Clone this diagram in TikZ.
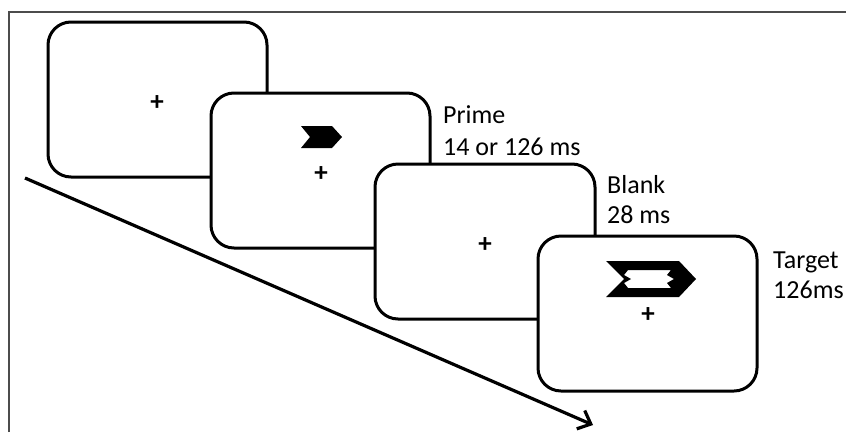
\documentclass[tikz,border=0pt]{standalone}
\usepackage{fontspec}
\setmainfont{Carlito}
\usetikzlibrary{arrows.meta}

\tikzset{
  screen/.style={draw=black, line width=3pt, fill=white, rounded corners=23pt},
  label/.style={anchor=base west, inner sep=0pt, font=\fontsize{26}{30}\selectfont},
  fixation/.style={anchor=center, inner sep=0pt, font=\bfseries\fontsize{27}{30}\selectfont},
  frame/.style={draw=black!70, line width=1.4pt},
  timeline/.style={line width=3.2pt, -{Straight Barb[length=11pt,width=20pt,line width=3.2pt]}}
}

\begin{document}
\begin{tikzpicture}[x=1pt, y=-1pt]
  \useasboundingbox (0,0) rectangle (846,432);

  % outer frame (top and left edges)
  \draw[frame] (9,432) -- (9,12) -- (846,12);

  % time axis
  \coordinate (tstart) at (25,178);
  \coordinate (tend) at (593,425);
  \draw[timeline] (tstart) -- (tend);

  % fixation screen
  \draw[screen] (48,22) rectangle (267,177);
  \node[fixation] (fix1) at (157,103) {+};

  % prime screen
  \draw[screen] (211,93) rectangle (430,248);
  \node[fixation] (fix2) at (321,174) {+};
  \fill[black] (301,126) -- (332,126) -- (342,137) -- (332,148) -- (301,148) -- (310,137) -- cycle;
  \node[label] (primeA) at (443,123) {Prime};
  \node[label] (primeB) at (443,155) {14 or 126 ms};

  % blank screen
  \draw[screen] (375,164) rectangle (595,319);
  \node[fixation] (fix3) at (485,245) {+};
  \node[label] (blankA) at (607,193) {Blank};
  \node[label] (blankB) at (607,223) {28 ms};

  % target screen
  \draw[screen] (538,236) rectangle (757,391);
  \node[fixation] (fix4) at (648,315) {+};
  \fill[black, even odd rule]
    (606,261) -- (679,261) -- (696,279) -- (679,297) -- (606,297) -- (624,279) -- cycle
    (628,270) -- (671,270) -- (667,275) -- (674,279) -- (667,283) -- (671,288)
      -- (628,288) -- (624,283) -- (631,279) -- (624,275) -- cycle;
  \node[label] (targetA) at (773,268) {Target};
  \node[label] (targetB) at (773,298) {126ms};
\end{tikzpicture}
\end{document}
